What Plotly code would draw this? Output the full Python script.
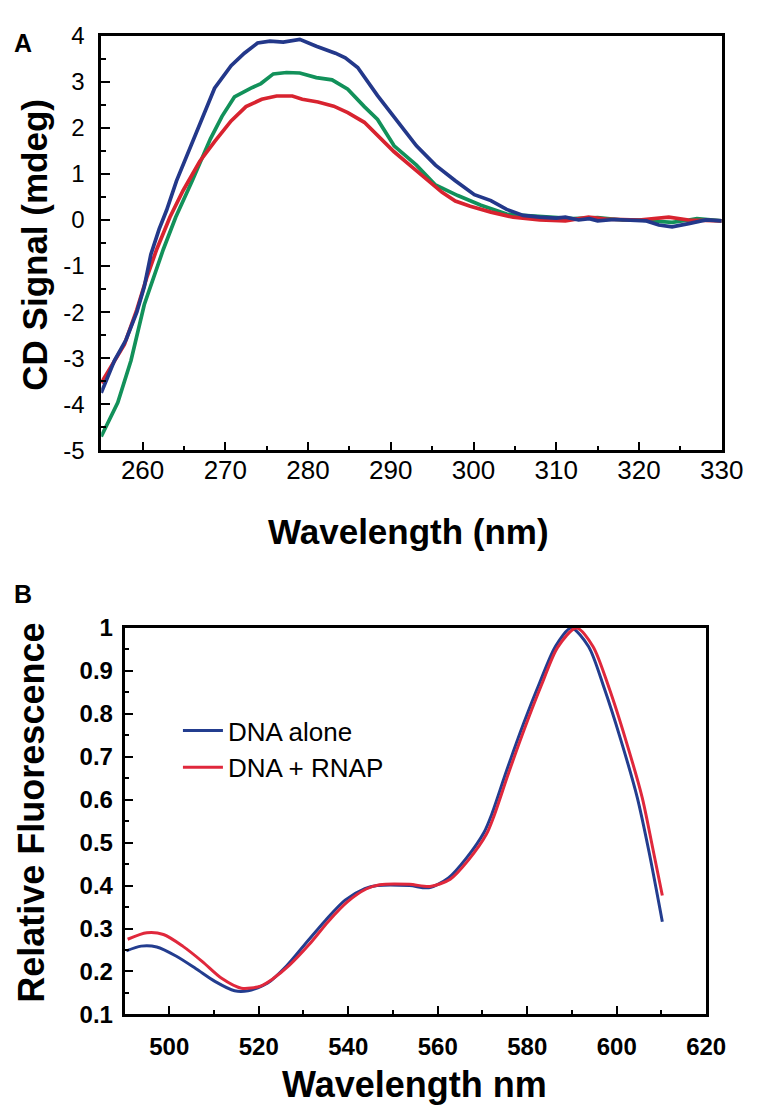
import plotly.graph_objects as go

# ---------------- Panel A: CD spectra ----------------
cd_wl_blue = [255, 256.6, 258, 259.3, 260.2, 261, 262, 262.9, 264.1, 265.7, 267.2, 268.7, 270.7, 272.3,
              273.9, 275.4, 277, 279, 281, 283.3, 284.5, 286, 288.4, 290.7, 293.1, 295.4, 297.8, 300.1,
              302.1, 304, 306, 308, 310, 311.1, 312.7, 314, 315, 317, 318.9, 320.9, 322.4, 324, 326, 328.1, 330]
cd_blue = [-3.75, -3.05, -2.6, -2.0, -1.45, -0.75, -0.2, 0.21, 0.85, 1.55, 2.2, 2.86, 3.35, 3.62,
           3.84, 3.88, 3.86, 3.92, 3.77, 3.62, 3.52, 3.31, 2.7, 2.18, 1.61, 1.19, 0.85, 0.55,
           0.42, 0.23, 0.1, 0.06, 0.04, 0.06, 0.0, 0.03, -0.02, 0.01, 0.0, -0.02, -0.11, -0.15, -0.08, 0.0, -0.02]

cd_wl_green = [255, 257, 258.6, 260.2, 262.5, 264, 266, 268.2, 269.6, 271.1, 273.1, 274.3, 275.8, 277.4,
               279, 281, 282.9, 284.8, 286.8, 288.4, 290.4, 293.1, 295.4, 298.1, 300.9, 304, 306, 310,
               312, 315, 318, 320, 322, 324, 326, 327, 330]
cd_green = [-4.7, -3.96, -3.05, -1.84, -0.64, 0.06, 0.85, 1.76, 2.25, 2.67, 2.86, 2.96, 3.17, 3.2,
            3.19, 3.09, 3.04, 2.84, 2.46, 2.18, 1.61, 1.19, 0.76, 0.53, 0.32, 0.13, 0.1, 0.06,
            0.03, 0.05, 0.0, 0.0, -0.02, -0.05, 0.0, 0.03, -0.02]

cd_wl_red = [255, 257.8, 259.3, 260.5, 261.7, 263.3, 264.9, 266.9, 268.7, 270.7, 272.5, 274.4, 276.2,
             278.1, 279.3, 281.2, 283.1, 284.8, 286.8, 288.4, 290.4, 292.3, 294.6, 296.2, 297.8, 299.6,
             302.1, 304.8, 308, 311.1, 313.9, 316, 320, 323.6, 326, 330]
cd_red = [-3.54, -2.7, -1.95, -1.25, -0.64, 0.06, 0.64, 1.27, 1.7, 2.15, 2.46, 2.62, 2.69,
          2.69, 2.62, 2.56, 2.47, 2.33, 2.12, 1.84, 1.48, 1.19, 0.85, 0.6, 0.41, 0.3, 0.17, 0.06,
          0.0, -0.02, 0.06, 0.02, 0.0, 0.06, 0.0, -0.02]

cd_yticks = [-5, -4, -3, -2, -1, 0, 1, 2, 3, 4]
cd_yticktext = ["-5", "-4", "-3", "-2", "-1", "0", "1", "2", "3", "4"]

# ---------------- Panel B: fluorescence ----------------
fl_wl_alone = [490.4, 493.7, 497.2, 501.5, 505.9, 510.2, 514.6, 517.6, 522, 526.3, 530.7, 535, 539.3,
               543.7, 546.5, 553.7, 558, 562.4, 566.4, 570.4, 572, 575.4, 579.1, 582.8, 586.3, 589.8,
               593.7, 597.2, 600.9, 604.6, 607.2, 610.2]
fl_alone = [0.248, 0.259, 0.257, 0.236, 0.207, 0.177, 0.155, 0.155, 0.173, 0.214, 0.268, 0.32, 0.366,
            0.393, 0.40, 0.40, 0.395, 0.418, 0.464, 0.525, 0.564, 0.668, 0.775, 0.873, 0.957, 1.0,
            0.957, 0.86, 0.74, 0.605, 0.48, 0.316]

fl_wl_rnap = [490.7, 495, 498.7, 503, 507.4, 511.7, 516.1, 520.4, 523.3, 526.8, 531.2, 535.5, 539.8,
              544, 547, 553.7, 558.3, 562.8, 566.9, 570.9, 572.5, 575.9, 579.6, 583.3, 586.8, 591,
              594.7, 598.3, 602, 605.7, 608, 610.2]
fl_rnap = [0.275, 0.29, 0.286, 0.259, 0.223, 0.184, 0.161, 0.166, 0.184, 0.214, 0.262, 0.316, 0.362,
           0.392, 0.402, 0.403, 0.398, 0.415, 0.46, 0.52, 0.56, 0.664, 0.771, 0.87, 0.955, 1.0,
           0.957, 0.86, 0.74, 0.605, 0.49, 0.377]

W, H = 760, 1116
FA = "Liberation Sans, Arial, Helvetica, sans-serif"

fig = go.Figure()
fig.add_trace(go.Scatter(x=cd_wl_green, y=cd_green, mode="lines", line=dict(color="#12915a", width=3.7),
                         showlegend=False, xaxis="x", yaxis="y"))
fig.add_trace(go.Scatter(x=cd_wl_red, y=cd_red, mode="lines", line=dict(color="#d8232f", width=3.7),
                         showlegend=False, xaxis="x", yaxis="y"))
fig.add_trace(go.Scatter(x=cd_wl_blue, y=cd_blue, mode="lines", line=dict(color="#23388a", width=3.7),
                         showlegend=False, xaxis="x", yaxis="y"))

fig.add_trace(go.Scatter(x=fl_wl_alone, y=fl_alone, mode="lines", name="DNA alone",
                         line=dict(color="#233d8f", width=3, shape="spline", smoothing=0.8),
                         xaxis="x2", yaxis="y2"))
fig.add_trace(go.Scatter(x=fl_wl_rnap, y=fl_rnap, mode="lines", name="DNA + RNAP",
                         line=dict(color="#e0283c", width=3, shape="spline", smoothing=0.8),
                         xaxis="x2", yaxis="y2"))

axA = dict(showline=True, linecolor="black", linewidth=2.5, mirror=True, showgrid=False, zeroline=False,
           ticks="inside", ticklen=9, tickwidth=2, tickcolor="black")
fig.update_layout(
    width=W, height=H, margin=dict(l=0, r=0, t=0, b=0),
    paper_bgcolor="white", plot_bgcolor="white",
    xaxis=dict(**axA, domain=[96 / W, 735 / W], range=[255, 330], dtick=10, tick0=0,
               minor=dict(ticks="inside", dtick=5, ticklen=5, tickwidth=2, tickcolor="black"),
               tickfont=dict(family=FA, size=26, color="black"), ticklabelstandoff=-5, anchor="y"),
    yaxis=dict(**axA, domain=[1 - 439 / H, 1 - 14 / H], range=[-5, 4],
               tickvals=cd_yticks, ticktext=cd_yticktext,
               minor=dict(ticks="inside", dtick=0.5, ticklen=5, tickwidth=2, tickcolor="black"),
               tickfont=dict(family=FA, size=24, color="black"), ticklabelstandoff=9, anchor="x"),
    xaxis2=dict(**axA, domain=[120 / W, 719 / W], range=[490, 620], dtick=20, tick0=0,
                minor=dict(ticks="inside", dtick=10, ticklen=5, tickwidth=2, tickcolor="black"),
                tickfont=dict(family=FA, size=24, color="black", weight="bold"), ticklabelstandoff=9,
                anchor="y2"),
    yaxis2=dict(**axA, domain=[1 - 1017 / H, 1 - 621 / H], range=[0.1, 1], dtick=0.1,
                minor=dict(ticks="inside", dtick=0.05, ticklen=5, tickwidth=2, tickcolor="black"),
                tickfont=dict(family=FA, size=24, color="black", weight="bold"), ticklabelstandoff=4,
                anchor="x2"),
    legend=dict(x=175 / W, y=1 - 702 / H, xanchor="left", yanchor="top", bgcolor="rgba(0,0,0,0)",
                font=dict(family=FA, size=26, color="black"), itemwidth=40, tracegroupgap=0),
)

ann = [
    dict(text="<b>A</b>", x=15 / W, y=1 - 22 / H, font=dict(family=FA, size=25)),
    dict(text="<b>B</b>", x=15 / W, y=1 - 586 / H, font=dict(family=FA, size=25)),
    dict(text="<b>CD Signal (mdeg)</b>", x=27 / W, y=1 - 228 / H, textangle=-90, font=dict(family=FA, size=35)),
    dict(text="<b>Wavelength (nm)</b>", x=412 / W, y=1 - 522 / H, font=dict(family=FA, size=35)),
    dict(text="<b>Relative Fluorescence</b>", x=24 / W, y=1 - 810 / H, textangle=-90, font=dict(family=FA, size=36)),
    dict(text="<b>Wavelength nm</b>", x=419 / W, y=1 - 1089 / H, font=dict(family=FA, size=36)),
]
for a in ann:
    a.update(xref="paper", yref="paper", showarrow=False, xanchor="center", yanchor="middle")
    a["font"]["color"] = "black"
fig.update_layout(annotations=ann)

fig.write_html("out.html")
